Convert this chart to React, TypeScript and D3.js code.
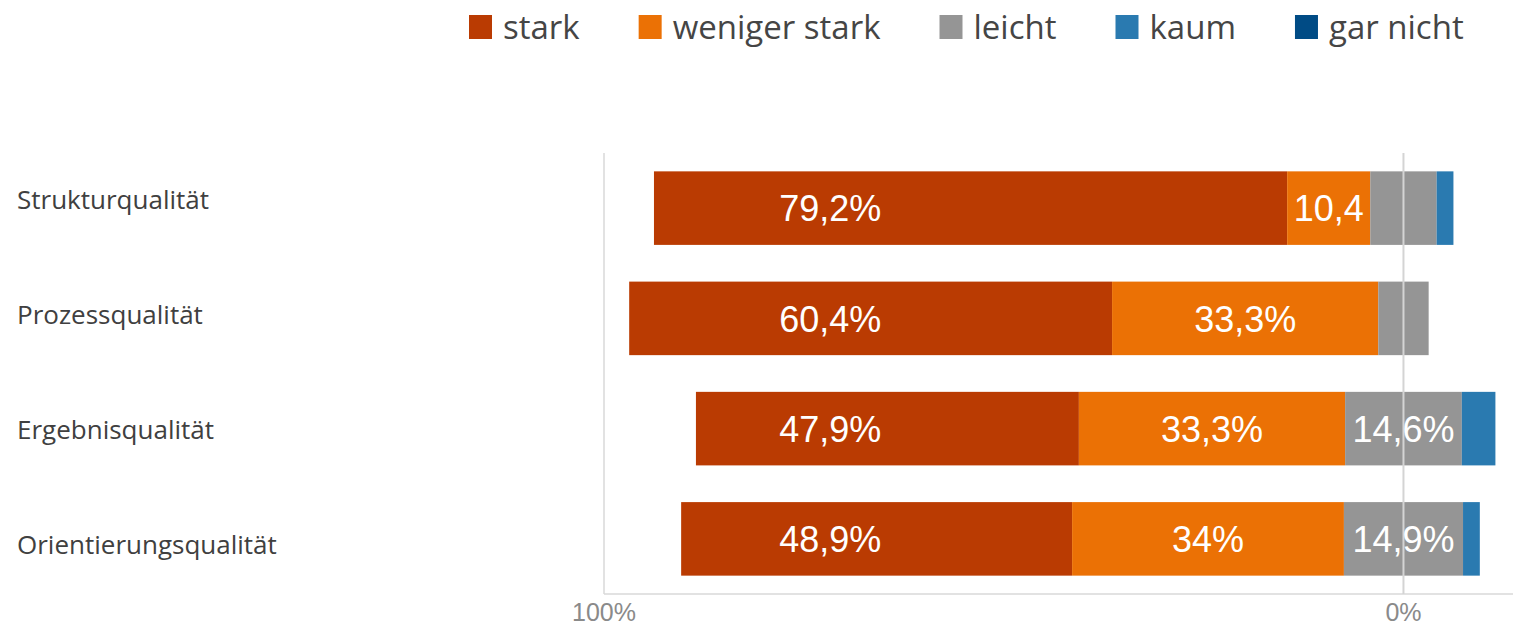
import React, { useEffect, useRef } from "react";
import * as d3 from "d3";

const categories = ["Strukturqualität", "Prozessqualität", "Ergebnisqualität", "Orientierungsqualität"];
const seriesNames = ["stark", "weniger stark", "leicht", "kaum", "gar nicht"];
const stark = [79.2, 60.4, 47.9, 48.9];
const wenigerStark = [10.4, 33.3, 33.3, 34];
const leicht = [8.3, 6.3, 14.6, 14.9];
const kaum = [2.1, 0, 4.2, 2.1];
const garNicht = [0, 0, 0, 0];
const seriesColors = ["#BA3B02", "#EB7105", "#959595", "#2A7AB0", "#004B85"];
const tickValues = [-100, 0];
const tickLabels = ["100%", "0%"];
const xDomain = [-100, 13.7];
const starkLabelAt = -71.7;
const minLabelValue = 10;

const W = 1513;
const H = 627;

export default function App() {
  const ref = useRef<SVGSVGElement | null>(null);

  useEffect(() => {
    document.body.style.margin = "0";
    const svg = d3.select(ref.current);
    svg.selectAll("*").remove();

    const plotLeft = 604, plotRight = 1513, plotTop = 153, plotBottom = 594;
    const x = d3.scaleLinear().domain(xDomain).range([plotLeft, plotRight]);
    const y = d3.scaleBand<string>().domain(categories).range([plotTop, plotBottom]).paddingInner(0.333).paddingOuter(0.1665);
    const yLab = d3.scalePoint<string>().domain(categories).range([142.5, 602.5]).padding(0.5);

    const values = [stark, wenigerStark, leicht, kaum, garNicht];
    const loc = d3.formatLocale({ decimal: ",", thousands: ".", grouping: [3], currency: ["", "€"] });
    const fmt = loc.format(".3~g");

    const g = svg.append("g");
    g.append("line").attr("x1", x(xDomain[0])).attr("x2", x(xDomain[0])).attr("y1", plotTop).attr("y2", plotBottom)
      .attr("stroke", "#D9D9D9").attr("stroke-width", 1.5);
    g.append("line").attr("x1", plotLeft).attr("x2", plotRight).attr("y1", plotBottom).attr("y2", plotBottom)
      .attr("stroke", "#D9D9D9").attr("stroke-width", 1.5);

    categories.forEach((cat, i) => {
      const v = values.map((s) => s[i]);
      let start = -(v[0] + v[1] + v[2] / 2);
      v.forEach((val, k) => {
        if (val <= 0) return;
        const x0 = x(start), x1 = x(start + val);
        g.append("rect").attr("x", x0).attr("y", y(cat)!).attr("width", x1 - x0).attr("height", y.bandwidth())
          .attr("fill", seriesColors[k]);
        start += val;
      });
    });

    g.append("line").attr("x1", x(0)).attr("x2", x(0)).attr("y1", plotTop).attr("y2", plotBottom)
      .attr("stroke", "#D4D4D4").attr("stroke-width", 2);

    categories.forEach((cat, i) => {
      const v = values.map((s) => s[i]);
      let start = -(v[0] + v[1] + v[2] / 2);
      v.forEach((val, k) => {
        const segStart = start;
        start += val;
        if (val < minLabelValue) return;
        const cx = k === 0 ? x(starkLabelAt) : x(segStart + val / 2);
        const segW = x(segStart + val) - x(segStart);
        const t = g.append("text").attr("x", cx).attr("y", y(cat)! + y.bandwidth() / 2).attr("dy", "0.37em")
          .attr("text-anchor", "middle").attr("fill", "#FFFFFF")
          .attr("font-family", "'Liberation Sans', Arial, sans-serif").attr("font-size", 36)
          .text(fmt(val) + "%");
        const node = t.node() as SVGTextElement;
        if (node.getComputedTextLength() > segW) {
          t.text(fmt(val));
        }
      });
    });

    categories.forEach((cat) => {
      g.append("text").attr("x", 17).attr("y", yLab(cat)!).attr("dy", "0.36em")
        .attr("font-family", "'Open Sans', sans-serif").attr("font-size", 26).attr("fill", "#404040")
        .text(cat);
    });

    tickValues.forEach((tv, i) => {
      g.append("text").attr("x", x(tv)).attr("y", 621).attr("text-anchor", "middle")
        .attr("font-family", "'Liberation Sans', Arial, sans-serif").attr("font-size", 25).attr("fill", "#8A8A8A")
        .text(tickLabels[i]);
    });

    let lx = 469;
    seriesNames.forEach((name, k) => {
      g.append("rect").attr("x", lx).attr("y", 15).attr("width", 23).attr("height", 24).attr("fill", seriesColors[k]);
      const t = g.append("text").attr("x", lx + 34).attr("y", 39)
        .attr("font-family", "'Open Sans', sans-serif").attr("font-size", 33).attr("fill", "#454545")
        .text(name);
      const w = (t.node() as SVGTextElement).getComputedTextLength();
      lx = lx + 34 + w + 59;
    });
  }, []);

  return (
    <svg ref={ref} width={W} height={H} style={{ position: "absolute", left: 0, top: 0, background: "#fff" }} />
  );
}
